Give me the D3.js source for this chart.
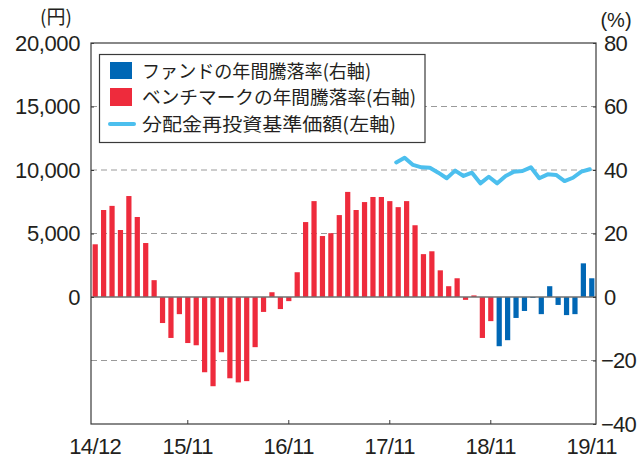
<!DOCTYPE html>
<html><head><meta charset="utf-8">
<script src="https://cdn.jsdelivr.net/npm/d3@7"></script>
<style>
html,body{margin:0;padding:0;background:#fff;}
svg{display:block;}
text{font-family:"Liberation Sans",Arial,sans-serif;fill:#231f20;}
.jp{font-family:"Noto Sans CJK JP","Noto Sans",sans-serif;}
</style></head>
<body>
<svg id="c" width="638" height="464"></svg>
<script>
// ---- data ----
const benchmarkReturns = [16.6,27.4,28.7,21.1,31.8,25.2,17.0,5.3,-8.2,-12.9,-5.4,-14.5,-15.2,-23.7,-28.1,-17.4,-25.6,-26.9,-26.5,-15.8,
  -4.7,1.5,-3.8,-1.3,7.8,23.6,30.2,19.2,20.1,25.8,33.1,27.4,29.9,31.5,31.5,30.2,28.3,30.2,22.6,13.5,
  14.4,8.4,3.4,5.9,-0.9,0.5,-12.9,-7.6];
const fundReturns = [-15.5,-13.6,-6.6,-4.4,-0.3,-5.4,3.4,-2.5,-5.7,-5.4,10.6,5.9];
const navStartIndex = 36;
const navValues = [10600,10970,10400,10210,10180,9790,9350,9950,9530,9790,8950,9470,
  8950,9530,9870,9920,10210,9350,9660,9610,9130,9390,9870,10060];
const xTickLabels = ["14/12","15/11","16/11","17/11","18/11","19/11"];
const leftTicks = [0,5000,10000,15000,20000];
const rightTicks = [-40,-20,0,20,40,60,80];
const legendLabels = ["ファンドの年間騰落率(右軸)","ベンチマークの年間騰落率(右軸)","分配金再投資基準価額(左軸)"];

// months 14/12 .. 19/11
const months = [];
for (let i = 0; i < 60; i++) {
  const m = 11 + i; const y = 14 + Math.floor(m / 12); const mm = (m % 12) + 1;
  months.push(String(y) + "/" + String(mm).padStart(2, "0"));
}
const barData = benchmarkReturns.map((v, i) => ({m: months[i], v, c: "bench"}))
  .concat(fundReturns.map((v, i) => ({m: months[benchmarkReturns.length + i], v, c: "fund"})));
const navData = navValues.map((v, i) => ({m: months[navStartIndex + i], v}));

// ---- layout ----
const L = 91, R = 596, T = 43, B = 424;
const svg = d3.select("#c");
const x = d3.scaleBand().domain(months).range([L, R]).padding(0);
const yL = d3.scaleLinear().domain([-10000, 20000]).range([B, T]);
const yR = d3.scaleLinear().domain([-40, 80]).range([B, T]);
const red = "#ee2b3c", blue = "#0067b5", lblue = "#4cbfee";
const numFont = "Liberation Sans, Arial, sans-serif";

// gridlines
svg.append("g").selectAll("line").data([-20, 20, 40, 60]).join("line")
  .attr("x1", L).attr("x2", R).attr("y1", d => yR(d)).attr("y2", d => yR(d))
  .attr("stroke", "#9a9a9a").attr("stroke-width", 1).attr("stroke-dasharray", "6,4");

// bars
const bw = x.bandwidth() * 0.62;
svg.append("g").selectAll("rect").data(barData).join("rect")
  .attr("x", d => x(d.m) + (x.bandwidth() - bw) / 2)
  .attr("width", bw)
  .attr("y", d => yR(Math.max(0, d.v)))
  .attr("height", d => Math.abs(yR(d.v) - yR(0)))
  .attr("fill", d => d.c === "fund" ? blue : red);

// zero line
svg.append("line").attr("x1", L).attr("x2", R).attr("y1", yR(0)).attr("y2", yR(0))
  .attr("stroke", "#707070").attr("stroke-width", 1.6);

// nav line
svg.append("path").datum(navData)
  .attr("d", d3.line().x(d => x(d.m) + x.bandwidth() / 2 - 2).y(d => yL(d.v)))
  .attr("fill", "none").attr("stroke", lblue).attr("stroke-width", 4)
  .attr("stroke-linejoin", "round").attr("stroke-linecap", "round");

// frame
svg.append("rect").attr("x", L).attr("y", T).attr("width", R - L).attr("height", B - T)
  .attr("fill", "none").attr("stroke", "#3a3a3a").attr("stroke-width", 1.2);

// left axis
const axL = svg.append("g").attr("transform", `translate(${L},0)`)
  .call(d3.axisLeft(yL).tickValues(leftTicks).tickSize(-3).tickPadding(11)
    .tickFormat(d3.format(",")));
axL.select(".domain").remove();
axL.selectAll("line").attr("stroke", "#3a3a3a");
axL.selectAll("text").attr("font-size", 22).attr("fill", "#231f20")
  .attr("font-family", numFont).attr("letter-spacing", "-0.4");

// right axis
const axR = svg.append("g").attr("transform", `translate(${R},0)`)
  .call(d3.axisRight(yR).tickValues(rightTicks).tickSize(-3).tickPadding(8));
axR.select(".domain").remove();
axR.selectAll("line").attr("stroke", "#3a3a3a");
axR.selectAll("text").attr("font-size", 22).attr("fill", "#231f20")
  .attr("font-family", numFont).attr("letter-spacing", "-0.8")
  .attr("dx", d => d < 0 ? -3 : 0);

// bottom axis
const axB = svg.append("g").attr("transform", `translate(0,${B})`)
  .call(d3.axisBottom(x).tickValues(xTickLabels).tickSize(-4).tickPadding(14));
axB.select(".domain").remove();
axB.selectAll("line").attr("stroke", "#3a3a3a")
  .attr("display", d => (d === xTickLabels[0] || d === xTickLabels[xTickLabels.length - 1]) ? "none" : null);
axB.selectAll("text").attr("font-size", 22).attr("fill", "#231f20")
  .attr("font-family", numFont).attr("letter-spacing", "-0.6");

// unit labels
svg.append("text").attr("class", "jp").attr("x", 56).attr("y", 24).attr("text-anchor", "middle")
  .attr("font-size", 19).text("(円)");
svg.append("text").attr("x", 616).attr("y", 27).attr("text-anchor", "middle")
  .attr("font-size", 20).text("(%)");

// legend
const lg = svg.append("g");
lg.append("rect").attr("x", 99.5).attr("y", 54.5).attr("width", 325.5).attr("height", 88)
  .attr("fill", "#fff").attr("stroke", "#3a3a3a").attr("stroke-width", 1.2);
lg.append("rect").attr("x", 110).attr("y", 62).attr("width", 22).attr("height", 17).attr("fill", blue);
lg.append("rect").attr("x", 110).attr("y", 88).attr("width", 22).attr("height", 18).attr("fill", red);
lg.append("line").attr("x1", 110).attr("x2", 134).attr("y1", 124).attr("y2", 124)
  .attr("stroke", lblue).attr("stroke-width", 4).attr("stroke-linecap", "round");
const rowsY = [71, 97, 124];
const rowsW = [229, 274, 254];
lg.selectAll("text.lt").data(legendLabels).join("text").attr("class", "lt jp")
  .attr("x", 142).attr("y", (d, i) => rowsY[i] + 6.8)
  .attr("font-size", 18.5).attr("fill", "#231f20")
  .attr("textLength", (d, i) => rowsW[i]).attr("lengthAdjust", "spacingAndGlyphs")
  .text(d => d);
</script>
</body></html>
